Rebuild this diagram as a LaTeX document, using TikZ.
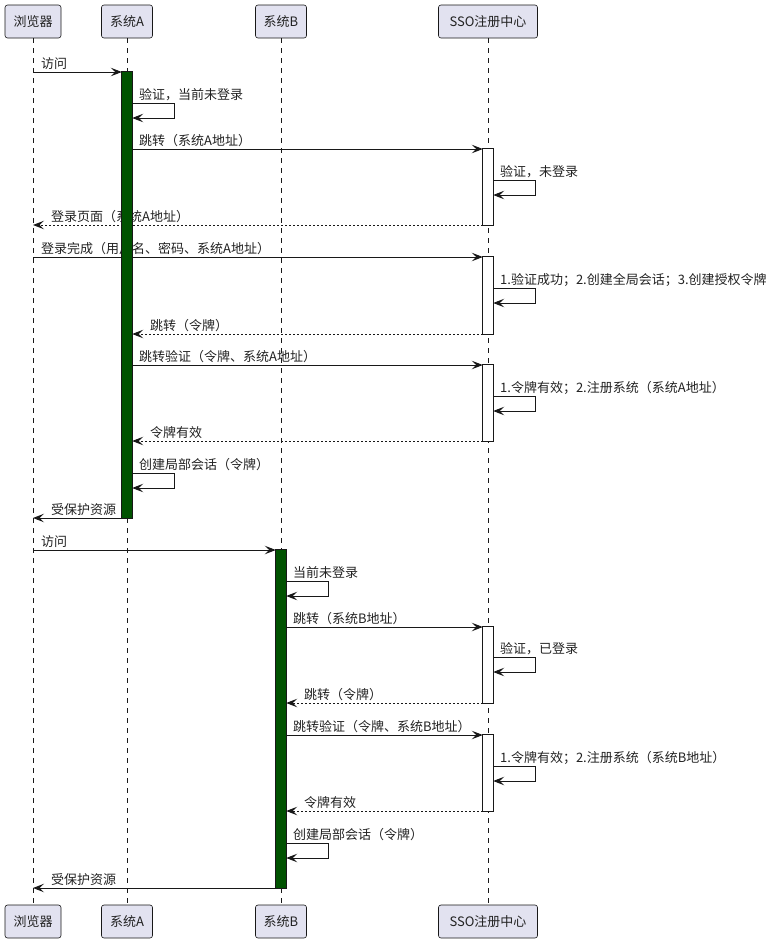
\documentclass[tikz,border=0pt]{standalone}
\usepackage{fontspec}
\newfontfamily\cjk{Noto Sans CJK SC}
\usetikzlibrary{arrows.meta}
\definecolor{pfill}{HTML}{E2E2F0}
\definecolor{pline}{HTML}{181818}
\definecolor{txt}{HTML}{222222}
\definecolor{bargreen}{HTML}{005200}
\begin{document}
\begin{tikzpicture}[x=1pt,y=-1pt,
  every node/.style={font=\cjk\fontsize{13pt}{15pt}\selectfont, text=txt},
  pbox/.style={draw=pline, line width=0.6pt, fill=pfill, rounded corners=2.5pt, minimum height=33pt, inner sep=0pt},
  lifeline/.style={draw=pline, line width=0.5pt, dash pattern=on 5pt off 5pt},
  actA/.style={draw=pline, line width=0.8pt, fill=bargreen, minimum width=10pt, inner sep=0pt},
  actS/.style={draw=pline, line width=0.8pt, fill=white, minimum width=10pt, inner sep=0pt},
  msg/.style={draw=pline, line width=1pt, -{Stealth[length=11pt,width=8.5pt,inset=4.5pt]}},
  ret/.style={msg, dash pattern=on 2pt off 2pt},
  lbl/.style={anchor=base west, inner sep=0pt}]
\useasboundingbox (0,0) rectangle (773,943);
% participants
\node[pbox, minimum width=56pt] (brT) at (33,21.5) {浏览器};
\node[pbox, minimum width=51pt] (saT) at (127,21.5) {系统A};
\node[pbox, minimum width=51pt] (sbT) at (281,21.5) {系统B};
\node[pbox, minimum width=99pt] (ssoT) at (488,21.5) {SSO注册中心};
\node[pbox, minimum width=56pt] (brB) at (33,921.5) {浏览器};
\node[pbox, minimum width=51pt] (saB) at (127,921.5) {系统A};
\node[pbox, minimum width=51pt] (sbB) at (281,921.5) {系统B};
\node[pbox, minimum width=99pt] (ssoB) at (488,921.5) {SSO注册中心};
% lifelines
\draw[lifeline] (brT) -- (brB);
\draw[lifeline] (saT) -- (saB);
\draw[lifeline] (sbT) -- (sbB);
\draw[lifeline] (ssoT) -- (ssoB);
% activation bar placeholders (positions)
\path (127,295) node[minimum width=10pt, minimum height=446pt, inner sep=0pt] (aA) {};
\path (281,719) node[minimum width=10pt, minimum height=338pt, inner sep=0pt] (aB) {};
\path (488,187) node[minimum width=10pt, minimum height=76pt, inner sep=0pt] (s1) {};
\path (488,295.5) node[minimum width=10pt, minimum height=77pt, inner sep=0pt] (s2) {};
\path (488,403) node[minimum width=10pt, minimum height=76pt, inner sep=0pt] (s3) {};
\path (488,665) node[minimum width=10pt, minimum height=76pt, inner sep=0pt] (s4) {};
\path (488,773) node[minimum width=10pt, minimum height=76pt, inner sep=0pt] (s5) {};
% messages
\draw[msg] (brT.south |- 0,72) -- (aA.west |- 0,72);
\node[lbl] (l1) at (41,68) {访问};
\draw[msg] (aA.east |- 0,103) -- ++(42,0) |- (aA.east |- 0,118);
\node[lbl] (l2) at (139,99) {验证，当前未登录};
\draw[msg] (aA.east |- 0,149) -- (s1.west |- 0,149);
\node[lbl] (l3) at (139,145) {跳转（系统A地址）};
\draw[msg] (s1.east |- 0,180) -- ++(42,0) |- (s1.east |- 0,195);
\node[lbl] (l4) at (500,176) {验证，未登录};
\draw[ret] (s1.west |- 0,225) -- (brT.south |- 0,225);
\node[lbl] (l5) at (51,221) {登录页面（系统A地址）};
\draw[msg] (brT.south |- 0,257) -- (s2.west |- 0,257);
\node[lbl] (l6) at (41,253) {登录完成（用户名、密码、系统A地址）};
\draw[msg] (s2.east |- 0,288) -- ++(42,0) |- (s2.east |- 0,303);
\node[lbl] (l7) at (500,284) {1.验证成功；2.创建全局会话；3.创建授权令牌};
\draw[ret] (s2.west |- 0,334) -- (aA.east |- 0,334);
\node[lbl] (l8) at (150,330) {跳转（令牌）};
\draw[msg] (aA.east |- 0,365) -- (s3.west |- 0,365);
\node[lbl] (l9) at (139,361) {跳转验证（令牌、系统A地址）};
\draw[msg] (s3.east |- 0,396) -- ++(42,0) |- (s3.east |- 0,411);
\node[lbl] (l10) at (500,392) {1.令牌有效；2.注册系统（系统A地址）};
\draw[ret] (s3.west |- 0,441) -- (aA.east |- 0,441);
\node[lbl] (l11) at (150,437) {令牌有效};
\draw[msg] (aA.east |- 0,473) -- ++(42,0) |- (aA.east |- 0,488);
\node[lbl] (l12) at (139,469) {创建局部会话（令牌）};
\draw[msg] (aA.west |- 0,518) -- (brT.south |- 0,518);
\node[lbl] (l13) at (51,514) {受保护资源};
\draw[msg] (brT.south |- 0,550) -- (aB.west |- 0,550);
\node[lbl] (l14) at (41,546) {访问};
\draw[msg] (aB.east |- 0,581) -- ++(42,0) |- (aB.east |- 0,596);
\node[lbl] (l15) at (293,577) {当前未登录};
\draw[msg] (aB.east |- 0,627) -- (s4.west |- 0,627);
\node[lbl] (l16) at (293,623) {跳转（系统B地址）};
\draw[msg] (s4.east |- 0,657) -- ++(42,0) |- (s4.east |- 0,672);
\node[lbl] (l17) at (500,653) {验证，已登录};
\draw[ret] (s4.west |- 0,703) -- (aB.east |- 0,703);
\node[lbl] (l18) at (304,699) {跳转（令牌）};
\draw[msg] (aB.east |- 0,735) -- (s5.west |- 0,735);
\node[lbl] (l19) at (293,731) {跳转验证（令牌、系统B地址）};
\draw[msg] (s5.east |- 0,766) -- ++(42,0) |- (s5.east |- 0,781);
\node[lbl] (l20) at (500,762) {1.令牌有效；2.注册系统（系统B地址）};
\draw[ret] (s5.west |- 0,811) -- (aB.east |- 0,811);
\node[lbl] (l21) at (304,807) {令牌有效};
\draw[msg] (aB.east |- 0,843) -- ++(42,0) |- (aB.east |- 0,858);
\node[lbl] (l22) at (293,839) {创建局部会话（令牌）};
\draw[msg] (aB.west |- 0,888) -- (brT.south |- 0,888);
\node[lbl] (l23) at (51,884) {受保护资源};
% activation bars on top
\draw[actA] (aA.north west) rectangle (aA.south east);
\draw[actA] (aB.north west) rectangle (aB.south east);
\draw[actS] (s1.north west) rectangle (s1.south east);
\draw[actS] (s2.north west) rectangle (s2.south east);
\draw[actS] (s3.north west) rectangle (s3.south east);
\draw[actS] (s4.north west) rectangle (s4.south east);
\draw[actS] (s5.north west) rectangle (s5.south east);
\end{tikzpicture}
\end{document}
